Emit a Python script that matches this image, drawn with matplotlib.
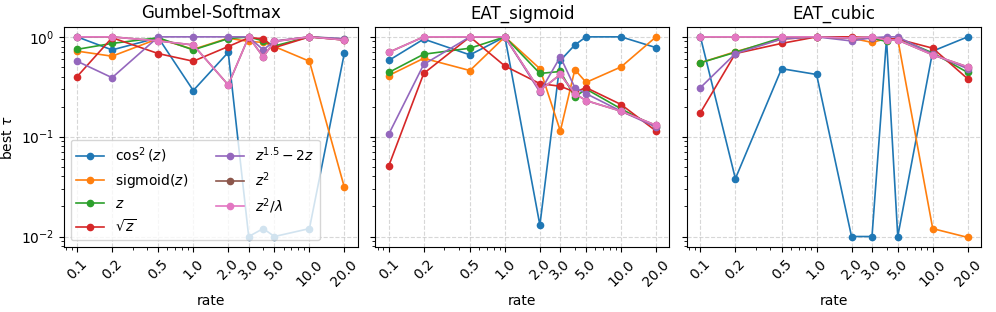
import matplotlib
matplotlib.use('Agg')
import numpy as np
import matplotlib.pyplot as plt

rates = [0.1, 0.2, 0.5, 1.0, 2.0, 3.0, 4.0, 5.0, 10.0, 20.0]
tick_rates = [0.1, 0.2, 0.5, 1.0, 2.0, 3.0, 5.0, 10.0, 20.0]

titles = ["Gumbel-Softmax", "EAT_sigmoid", "EAT_cubic"]
labels = [r"$\cos^2(z)$", r"sigmoid$(z)$", r"$z$", r"$\sqrt{z}$",
          r"$z^{1.5} - 2z$", r"$z^2$", r"$z^2/\lambda$"]

# Gumbel-Softmax
gs_cos2 = [1.0, 0.74, 0.98, 0.29, 0.70, 0.010, 0.012, 0.010, 0.012, 0.69]
gs_sigmoid = [0.72, 0.64, 0.96, 0.75, 0.97, 0.90, 0.88, 0.80, 0.57, 0.031]
gs_z = [0.75, 0.86, 0.98, 0.74, 0.96, 1.0, 0.91, 0.81, 1.0, 0.95]
gs_sqrt = [0.40, 0.98, 0.68, 0.57, 0.80, 0.98, 0.96, 0.78, 1.0, 0.93]
gs_z15 = [0.57, 0.39, 1.0, 1.0, 1.0, 1.0, 0.74, 0.91, 1.0, 0.96]
gs_z2 = [1.0, 1.0, 0.91, 0.83, 0.33, 1.0, 0.63, 0.90, 1.0, 0.93]
gs_z2lam = [1.0, 1.0, 0.91, 0.83, 0.33, 1.0, 0.63, 0.90, 1.0, 0.93]

# EAT_sigmoid
es_cos2 = [0.58, 0.95, 0.66, 1.0, 0.013, 0.58, 0.83, 1.0, 1.0, 0.78]
es_sigmoid = [0.41, 0.61, 0.46, 1.0, 0.48, 0.114, 0.47, 0.35, 0.50, 1.0]
es_z = [0.44, 0.67, 0.77, 1.0, 0.43, 0.45, 0.25, 0.30, 0.19, 0.125]
es_sqrt = [0.051, 0.43, 1.0, 0.51, 0.34, 0.32, 0.28, 0.31, 0.21, 0.114]
es_z15 = [0.106, 0.53, 1.0, 1.0, 0.28, 0.63, 0.31, 0.27, 0.18, 0.125]
es_z2 = [0.70, 1.0, 1.0, 1.0, 0.29, 0.42, 0.27, 0.23, 0.18, 0.13]
es_z2lam = [0.70, 1.0, 1.0, 1.0, 0.29, 0.42, 0.27, 0.23, 0.18, 0.13]

# EAT_cubic
ec_cos2 = [1.0, 0.038, 0.48, 0.42, 0.010, 0.010, 0.95, 0.010, 0.72, 1.0]
ec_sigmoid = [0.55, 0.71, 0.95, 1.0, 0.97, 0.88, 0.96, 0.95, 0.012, 0.0098]
ec_z = [0.55, 0.70, 0.98, 1.0, 0.98, 0.97, 0.90, 0.97, 0.69, 0.44]
ec_sqrt = [0.174, 0.68, 0.86, 1.0, 1.0, 0.98, 0.96, 0.95, 0.77, 0.38]
ec_z15 = [0.31, 0.68, 0.95, 1.0, 0.91, 0.98, 1.0, 1.0, 0.67, 0.48]
ec_z2 = [1.0, 1.0, 1.0, 1.0, 0.97, 1.0, 0.93, 0.93, 0.66, 0.50]
ec_z2lam = [1.0, 1.0, 1.0, 1.0, 0.97, 1.0, 0.93, 0.93, 0.66, 0.50]

panels = [
    [gs_cos2, gs_sigmoid, gs_z, gs_sqrt, gs_z15, gs_z2, gs_z2lam],
    [es_cos2, es_sigmoid, es_z, es_sqrt, es_z15, es_z2, es_z2lam],
    [ec_cos2, ec_sigmoid, ec_z, ec_sqrt, ec_z15, ec_z2, ec_z2lam],
]

fig, axes = plt.subplots(1, 3, figsize=(9.96, 3.12), dpi=100, sharey=True)
fig.subplots_adjust(left=0.064, right=0.985, top=0.914, bottom=0.207, wspace=0.06)

for ax, title, series in zip(axes, titles, panels):
    for vals, lab in zip(series, labels):
        ax.plot(rates, vals, marker='o', markersize=4.5, linewidth=1.2, label=lab)
    ax.set_xscale('log')
    ax.set_yscale('log')
    ax.set_xticks(tick_rates)
    ax.set_xticklabels([str(r) for r in tick_rates], rotation=45)
    ax.set_title(title)
    ax.set_xlabel("rate")
    ax.grid(True, which='major', linestyle='--', alpha=0.5)

axes[0].set_ylabel(r"best $\tau$")
axes[0].legend(ncol=2, loc='lower left', fontsize=10)

plt.savefig("out.png")
